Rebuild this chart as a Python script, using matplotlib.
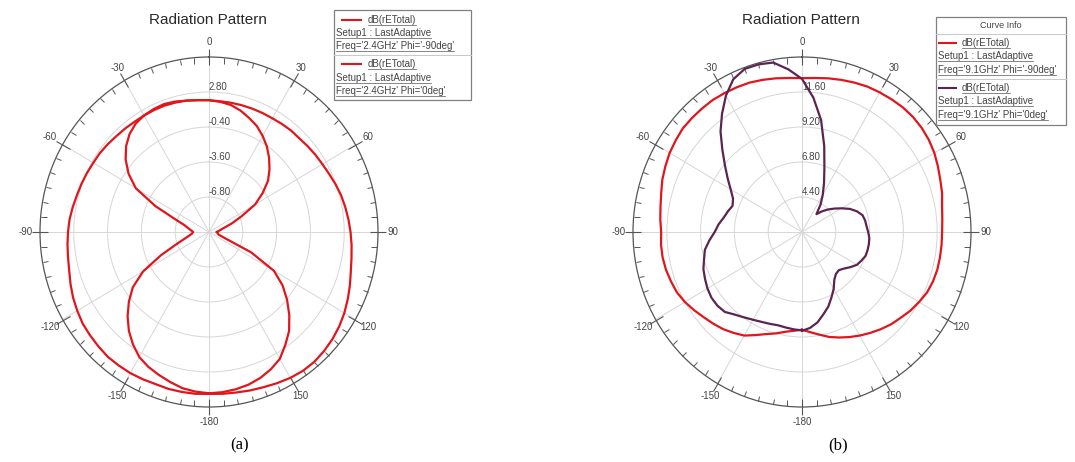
import numpy as np
import matplotlib
matplotlib.use('Agg')
import matplotlib.pyplot as plt
from matplotlib.lines import Line2D
from matplotlib.patches import Rectangle

W, H = 1075, 462

# theta in degrees, clockwise from top
theta = np.arange(-180, 181, 5)

# (a) 2.4 GHz, dB(rETotal)
a_phi_m90 = [4.8, 4.85, 4.85, 4.85, 4.8, 4.85,
             4.9, 4.9, 4.9, 4.8, 4.7, 4.6,
             4.4, 4.2, 3.95, 3.7, 3.55, 3.45,
             3.35, 3.25, 3.1, 2.95, 2.85, 2.75,
             2.65, 2.6, 2.5, 2.4, 2.35, 2.3,
             2.3, 2.3, 2.3, 2.25, 2.2, 2.1,
             2.05, 2.0, 2.0, 2.0, 2.0, 2.0,
             2.0, 2.05, 2.1, 2.1, 2.2, 2.3,
             2.4, 2.55, 2.75, 2.95, 3.1, 3.25,
             3.4, 3.55, 3.7, 3.9, 4.2, 4.5,
             4.8, 5.05, 5.25, 5.4, 5.5, 5.5,
             5.4, 5.25, 5.1, 5.0, 4.9, 4.85,
             4.8]
a_phi_0 = [4.75, 4.65, 4.5, 4.2, 3.9, 3.6,
           3.2, 2.55, 1.8, 0.9, -0.1, -1.2,
           -2.8, -5.0, -6.7, -7.6, -8.1, -8.4,
           -8.5, -8.3, -8.0, -7.6, -6.6, -4.4,
           -2.0, -0.7, 0.3, 1.1, 1.7, 2.1,
           2.3, 2.4, 2.45, 2.35, 2.2, 2.1,
           2.05, 1.95, 1.8, 1.5, 1.1, 0.7,
           0.15, -0.45, -1.15, -1.9, -2.7, -3.8,
           -4.95, -6.6, -7.7, -8.5, -8.9, -9.1,
           -9.3, -9.2, -9.15, -9.05, -8.5, -5.6,
           -2.9, -1.5, -0.35, 0.75, 1.8, 2.6,
           3.4, 3.85, 4.2, 4.45, 4.6, 4.7,
           4.75]

# (b) 9.1 GHz, dB(rETotal)
b_phi_m90 = [8.7, 8.8, 8.95, 9.2, 9.45, 9.8,
             10.2, 10.45, 10.7, 10.9, 11.1, 11.35,
             11.6, 11.8, 11.9, 12.0, 12.05, 12.05,
             12.0, 12.1, 12.2, 12.35, 12.55, 12.7,
             12.85, 12.95, 13.05, 13.05, 13.05, 13.05,
             13.0, 12.95, 12.9, 12.8, 12.7, 12.6,
             12.55, 12.6, 12.7, 12.8, 12.9, 13.0,
             13.05, 13.1, 13.15, 13.15, 13.1, 13.0,
             12.85, 12.65, 12.45, 12.3, 12.1, 12.0,
             11.95, 11.95, 11.95, 11.95, 11.9, 11.8,
             11.6, 11.4, 11.15, 10.95, 10.7, 10.45,
             10.2, 9.95, 9.7, 9.45, 9.15, 8.9,
             8.7]
b_phi_0 = [8.75, 8.7, 8.65, 8.62, 8.7, 8.8,
           8.95, 9.15, 9.4, 9.75, 9.85, 9.85,
           9.75, 9.6, 9.45, 9.2, 9.0, 8.6,
           8.2, 7.95, 7.65, 7.45, 7.25, 7.4,
           7.85, 8.45, 9.15, 10.0, 11.0, 11.9,
           12.8, 13.55, 13.9, 13.9, 13.8, 13.2,
           12.5, 11.25, 9.8, 8.1, 6.65, 5.7,
           4.95, 4.3, 3.6, 4.0, 4.4, 4.8,
           5.25, 5.75, 6.15, 6.45, 6.55, 6.6,
           6.7, 6.8, 6.82, 6.82, 6.8, 6.65,
           6.5, 6.2, 5.9, 5.7, 5.75, 6.0,
           6.5, 6.95, 7.45, 7.85, 8.3, 8.6,
           8.78]

a_rticks = [-6.8, -3.6, -0.4, 2.8]
a_rlabels = ['-6.80', '-3.60', '-0.40', '2.80']
b_rticks = [4.4, 6.8, 9.2, 11.6]
b_rlabels = ['4.40', '6.80', '9.20', '11.60']

theta_ticks = [0, 30, 60, 90, 120, 150, 180, 210, 240, 270, 300, 330]
theta_labels = ['0', '30', '60', '90', '120', '150', '-180',
                '-150', '-120', '-90', '-60', '-30']

leg_a = [("dB(rETotal)", "Setup1 : LastAdaptive", "Freq='2.4GHz' Phi='-90deg'"),
         ("dB(rETotal)", "Setup1 : LastAdaptive", "Freq='2.4GHz' Phi='0deg'")]
leg_b = [("dB(rETotal)", "Setup1 : LastAdaptive", "Freq='9.1GHz' Phi='-90deg'"),
         ("dB(rETotal)", "Setup1 : LastAdaptive", "Freq='9.1GHz' Phi='0deg'")]

RED = '#e0161c'
PURPLE = '#5b2550'
FONT = 'Liberation Sans'

plt.rcParams['font.family'] = [FONT, 'DejaVu Sans']

fig = plt.figure(figsize=(W / 100, H / 100), dpi=100)


def fx(x):
    return x / W


def fy(y):
    return 1 - y / H


def polar_panel(cx, cy, rx, ry, rmin, rmax, rticks, rlabels, curves):
    ax = fig.add_axes([fx(cx - rx), fy(cy + ry), 2 * rx / W, 2 * ry / H],
                      projection='polar')
    ax.set_aspect('auto')
    ax.set_theta_zero_location('N')
    ax.set_theta_direction(-1)
    for vals, col in curves:
        ax.plot(np.deg2rad(theta), vals, color=col, lw=1.6, zorder=3)
    ax.set_ylim(rmin, rmax)
    ax.set_yticks(rticks)
    ax.set_yticklabels([])
    ax.set_xticks(np.deg2rad(theta_ticks), theta_labels)
    ax.set_xticks(np.deg2rad(np.arange(0, 360, 5)), minor=True)
    ax.tick_params(axis='x', which='both', tick1On=False, tick2On=True)
    ax.tick_params(axis='x', which='major', direction='inout', length=6,
                   width=0.8, color='#555555', labelsize=7,
                   labelcolor='#444444', pad=0.5)
    ax.tick_params(axis='x', which='minor', direction='in', length=4,
                   width=0.7, color='#555555')
    ax.grid(True, color='#d6d6d6', lw=0.7)
    ax.spines['polar'].set_color('#555555')
    ax.spines['polar'].set_linewidth(0.9)
    for r, lab in zip(rticks, rlabels):
        ax.text(0, r, lab, ha='left', va='bottom', fontsize=7,
                color='#444444', zorder=2)
    return ax


polar_panel(209, 232, 169, 175, -10.0, 6.0, a_rticks, a_rlabels,
            [(a_phi_m90, RED), (a_phi_0, RED)])
polar_panel(802, 232, 169, 175, 2.0, 14.0, b_rticks, b_rlabels,
            [(b_phi_m90, RED), (b_phi_0, PURPLE)])

fig.text(fx(208), fy(20), 'Radiation Pattern', ha='center', va='center',
         fontsize=11, color='#2a2a2a')
fig.text(fx(801), fy(20), 'Radiation Pattern', ha='center', va='center',
         fontsize=11, color='#2a2a2a')

underlined = []


def legend_box(x0, y0, x1, y1, entries, colors, rows_y, sep_y, sx0, sx1,
               tx, lx, header=None):
    fig.patches.append(Rectangle((fx(x0), fy(y1)), fx(x1 - x0), (y1 - y0) / H,
                                 transform=fig.transFigure, fill=True,
                                 facecolor='white', edgecolor='#808080',
                                 lw=0.9))
    if header is not None:
        htxt, hy, hline = header
        fig.text(fx((x0 + x1) / 2), fy(hy), htxt, ha='center', va='center',
                 fontsize=6.5, color='#444444')
        fig.lines.append(Line2D([fx(x0), fx(x1)], [fy(hline)] * 2,
                                transform=fig.transFigure, color='#c8c8c8',
                                lw=0.7))
    fig.lines.append(Line2D([fx(x0), fx(x1)], [fy(sep_y)] * 2,
                            transform=fig.transFigure, color='#c8c8c8',
                            lw=0.7))
    for k, (entry, col) in enumerate(zip(entries, colors)):
        ys = rows_y[3 * k:3 * k + 3]
        fig.lines.append(Line2D([fx(sx0), fx(sx1)], [fy(ys[0])] * 2,
                                transform=fig.transFigure, color=col, lw=1.5))
        t = fig.text(fx(tx), fy(ys[0]), entry[0], ha='left', va='center',
                     fontsize=7, color='#444444')
        underlined.append(t)
        for s, y in zip(entry[1:], ys[1:]):
            t = fig.text(fx(lx), fy(y), s, ha='left', va='center',
                         fontsize=7, color='#444444')
            underlined.append(t)


legend_box(334, 10, 471, 100, leg_a, [RED, RED],
           [20, 33, 46, 64, 78, 91], 55, 342, 361, 368, 336)
legend_box(936, 17, 1066, 125, leg_b, [RED, PURPLE],
           [43, 56, 70, 88, 101, 115], 79, 939, 956, 962, 938,
           header=('Curve Info', 26, 34))

# underline the legend strings
fig.canvas.draw()
renderer = fig.canvas.get_renderer()
for t in underlined:
    bb = t.get_window_extent(renderer)
    y = bb.y0 + 0.5
    fig.lines.append(Line2D([bb.x0 / W, bb.x1 / W], [y / H] * 2,
                            transform=fig.transFigure, color='#555555',
                            lw=0.5))

fig.text(fx(240), fy(445), '(a)', ha='center', va='center', fontsize=12,
         family='Liberation Serif', color='black')
fig.text(fx(838), fy(445), '(b)', ha='center', va='center', fontsize=12,
         family='Liberation Serif', color='black')

fig.savefig('out.png', dpi=100, facecolor='white')
